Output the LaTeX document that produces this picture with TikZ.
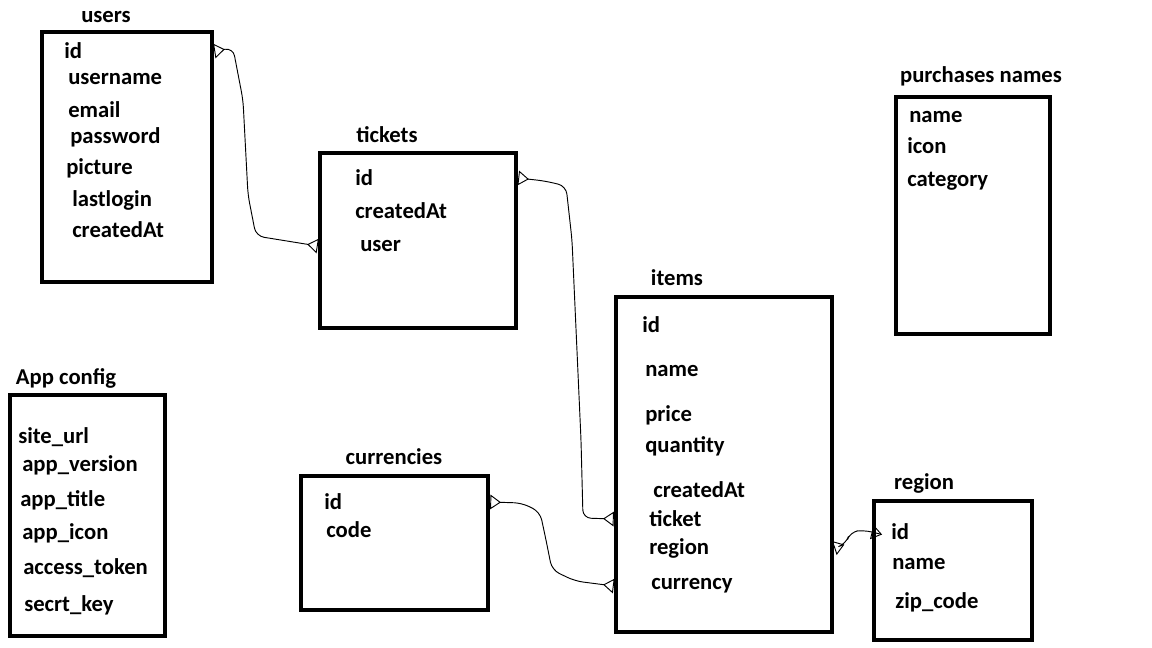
\documentclass[tikz,border=0pt]{standalone}
\usepackage{fontspec}
\setmainfont{Carlito}
\usetikzlibrary{fit,arrows.meta}
\tikzset{
    tbl/.style = {draw, line width=3.4pt, rectangle, inner sep=0pt},
    tbl-title/.style = {font=\fontsize{17}{20}\selectfont\bfseries, inner sep=0pt},
    field/.style = {anchor=west, font=\fontsize{17}{20}\selectfont\bfseries, inner sep=0pt},
    link/.style = {line width=0.7pt, rounded corners=6pt,
        {Triangle[open,reversed,length=8pt,width=11pt]}-{Triangle[open,reversed,length=8pt,width=11pt]}},
}

\begin{document}
\begin{tikzpicture}[x=0.75pt,y=-0.75pt]
\useasboundingbox (0,0) rectangle (1152,648);

% tables
\node[tbl, fit={(42,32) (212,282)}] (users) {};
\node[tbl-title] at (106,17) {users};
\node[field] (users-id) at (64,51) {id};
\node[field] at (68,79) {username};
\node[field] at (68,110) {email};
\node[field] at (70,137) {password};
\node[field] at (66,168) {picture};
\node[field] at (72,200) {lastlogin};
\node[field] at (72,230) {createdAt};

\node[tbl, fit={(320,153) (516,328)}] (tickets) {};
\node[tbl-title] at (387,135) {tickets};
\node[field] (tickets-id) at (355,178) {id};
\node[field] at (355,211) {createdAt};
\node[field] (tickets-user) at (360,246) {user};

\node[tbl, fit={(896,97) (1050,334)}] (purchases) {};
\node[tbl-title] at (981,76) {purchases names};
\node[field] at (909,117) {name};
\node[field] at (907,146) {icon};
\node[field] at (907,181) {category};

\node[tbl, fit={(616,297) (832,632)}] (items) {};
\node[tbl-title] at (677,278) {items};
\node[field] at (642,325) {id};
\node[field] at (645,371) {name};
\node[field] at (645,415) {price};
\node[field] at (645,446) {quantity};
\node[field] at (653,490) {createdAt};
\node[field] (items-ticket) at (649,519) {ticket};
\node[field] (items-region) at (649,548) {region};
\node[field] (items-currency) at (651,586) {currency};

\node[tbl, fit={(10,395) (165,636)}] (config) {};
\node[tbl-title] at (66,378) {App config};
\node[field] at (18,437) {site\_url};
\node[field] at (22,465) {app\_version};
\node[field] at (20,500) {app\_title};
\node[field] at (22,533) {app\_icon};
\node[field] at (23,568) {access\_token};
\node[field] at (24,605) {secrt\_key};

\node[tbl, fit={(301,476) (488,610)}] (currencies) {};
\node[tbl-title] at (394,457) {currencies};
\node[field] (currencies-id) at (324,502) {id};
\node[field] at (326,530) {code};

\node[tbl, fit={(874,501) (1032,640)}] (region) {};
\node[tbl-title] at (924,483) {region};
\node[field] (region-id) at (891,532) {id};
\node[field] at (892,564) {name};
\node[field] at (895,602) {zip\_code};

% links
\draw[link] (users.east |- users-id) -- (233,48) -- (243,100) -- (248,195)
    -- (256,236) -- (tickets.west |- tickets-user);
\draw[link] (tickets.east |- tickets-id) -- (545,181) -- (566,186) -- (572,240)
    -- (581,440) -- (583,518) -- (items.west |- items-ticket);
\draw[link] (currencies.east |- currencies-id) -- (522,503) -- (540,512)
    -- (546,540) -- (552,570) -- (575,581) -- (items.west |- items-currency);
\draw[link] (items.east |- items-region) -- (846,544) -- (850,532) -- (864,530)
    -- (region.west |- region-id);
\end{tikzpicture}
\end{document}
